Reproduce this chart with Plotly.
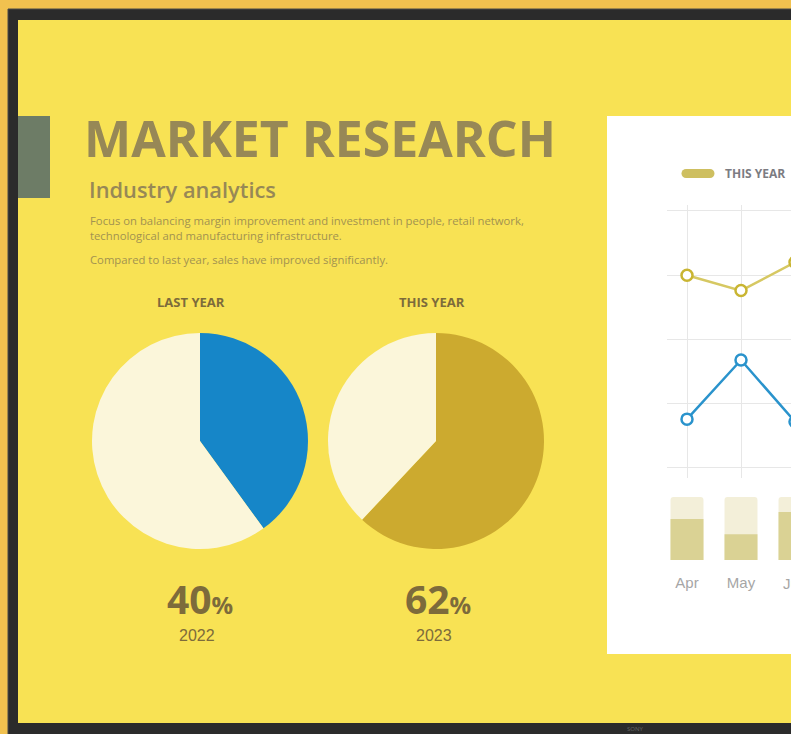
import plotly.graph_objects as go

W, H = 791, 734

# ---------------- data ----------------
pie_labels = ["Share", "Rest"]
last_year_share = [40, 60]
this_year_share = [62, 38]
share_text = ["40", "62"]
share_years = ["2022", "2023"]
pie_titles = ["LAST YEAR", "THIS YEAR"]

months = ["Apr", "May", "Jun"]
this_year_line = [75, 69, 80]
last_year_line = [19, 42, 18]
bar_total = [100, 100, 100]
bar_values = [65, 41, 76]

title_text = "MARKET RESEARCH"
subtitle_text = "Industry analytics"
body_lines = [
    "Focus on balancing margin improvement and investment in people, retail network,",
    "technological and manufacturing infrastructure.",
    "Compared to last year, sales have improved significantly.",
]
legend_text = "THIS YEAR"

# ---------------- helpers ----------------
def px(x):
    return x / W

def py(y):
    return 1 - y / H

YELLOW = "#F8E254"
OLIVE = "#978856"
BROWN = "#7D6B3B"
FONT = "Open Sans"

fig = go.Figure()

# pies
fig.add_trace(go.Pie(labels=pie_labels, values=last_year_share, sort=False,
                     direction="clockwise", rotation=0, textinfo="none",
                     hoverinfo="skip", showlegend=False,
                     marker=dict(colors=["#1686C8", "#FBF6DA"], line=dict(width=0)),
                     domain=dict(x=[px(92), px(308)], y=[py(549), py(333)])))
fig.add_trace(go.Pie(labels=pie_labels, values=this_year_share, sort=False,
                     direction="clockwise", rotation=0, textinfo="none",
                     hoverinfo="skip", showlegend=False,
                     marker=dict(colors=["#CCAA2F", "#FBF6DA"], line=dict(width=0)),
                     domain=dict(x=[px(328), px(544)], y=[py(549), py(333)])))

# lines
fig.add_trace(go.Scatter(x=months, y=this_year_line, mode="lines+markers",
                         name=legend_text, showlegend=False,
                         line=dict(color="#D6C862", width=2.5),
                         marker=dict(size=11, color="white",
                                     line=dict(color="#C9B532", width=2.5)),
                         xaxis="x", yaxis="y"))
fig.add_trace(go.Scatter(x=months, y=last_year_line, mode="lines+markers",
                         name="LAST YEAR", showlegend=False,
                         line=dict(color="#2A93CC", width=2.5),
                         marker=dict(size=11, color="white",
                                     line=dict(color="#2A93CC", width=2.5)),
                         xaxis="x", yaxis="y"))

# bars
fig.add_trace(go.Bar(x=months, y=bar_total, width=0.61, showlegend=False,
                     marker=dict(color="#F3EFD9", cornerradius=3, line=dict(width=0)),
                     xaxis="x2", yaxis="y2", hoverinfo="skip"))
fig.add_trace(go.Bar(x=months, y=bar_values, width=0.61, showlegend=False,
                     marker=dict(color="#DAD294", cornerradius=3, line=dict(width=0)),
                     xaxis="x2", yaxis="y2"))

xr = [-20 / 54, 104 / 54]

shapes = [
    # bezel
    dict(type="rect", xref="paper", yref="paper", x0=px(8), x1=px(805), y0=py(745), y1=py(9),
         fillcolor="#2B2B2B", line=dict(color="#4A4A4A", width=1), layer="below"),
    # screen
    dict(type="rect", xref="paper", yref="paper", x0=px(18), x1=px(805), y0=py(723), y1=py(20),
         fillcolor=YELLOW, line=dict(width=0), layer="below"),
    # green tab
    dict(type="rect", xref="paper", yref="paper", x0=px(18), x1=px(50), y0=py(198), y1=py(116),
         fillcolor="#6D7C66", line=dict(width=0), layer="below"),
    # white card
    dict(type="rect", xref="paper", yref="paper", x0=px(607), x1=px(805), y0=py(654), y1=py(116),
         fillcolor="#FFFFFF", line=dict(width=0), layer="below"),
    # legend pill
    dict(type="rect", xref="paper", yref="paper", x0=px(686), x1=px(710), y0=py(178), y1=py(169),
         fillcolor="#CEBF60", line=dict(width=0), layer="below"),
    dict(type="circle", xref="paper", yref="paper", x0=px(681.5), x1=px(690.5), y0=py(178), y1=py(169),
         fillcolor="#CEBF60", line=dict(width=0), layer="below"),
    dict(type="circle", xref="paper", yref="paper", x0=px(705.5), x1=px(714.5), y0=py(178), y1=py(169),
         fillcolor="#CEBF60", line=dict(width=0), layer="below"),
]

def ann(text, x, y, size, color, xanchor="left", weight="normal", family=FONT):
    return dict(text=text, x=px(x), y=py(y), xref="paper", yref="paper",
                xanchor=xanchor, yanchor="middle", showarrow=False,
                font=dict(size=size, color=color, family=family, weight=weight))

annotations = [
    ann(title_text, 82, 138, 50, OLIVE, weight="bold"),
    ann(subtitle_text, 87, 190, 21.8, OLIVE, weight=600),
    ann(body_lines[0], 88, 220, 11.3, "#A29250"),
    ann(body_lines[1], 88, 236, 11.3, "#A29250"),
    ann(body_lines[2], 88, 259, 11.3, "#A29250"),
    ann(pie_titles[0], 191, 302, 13, BROWN, xanchor="center", weight="bold"),
    ann(pie_titles[1], 432, 302, 13, BROWN, xanchor="center", weight="bold"),
    ann("<b>" + share_text[0] + "</b><span style='font-size:24px'><b>%</b></span>", 200, 598, 39, BROWN, xanchor="center"),
    ann("<b>" + share_text[1] + "</b><span style='font-size:24px'><b>%</b></span>", 438, 598, 39, BROWN, xanchor="center"),
    ann(share_years[0], 197, 635, 16, BROWN, xanchor="center", family="Liberation Sans"),
    ann(share_years[1], 434, 635, 16, BROWN, xanchor="center", family="Liberation Sans"),
    ann(legend_text, 723, 173, 12, "#7C7C82", weight="bold"),
    ann(months[2], 795, 583, 15, "#A6A6A6", xanchor="center", family="Liberation Sans"),
    ann("SONY", 635, 729, 6, "#666666", xanchor="center"),
]

fig.update_layout(
    width=W, height=H,
    margin=dict(l=0, r=0, t=0, b=0),
    paper_bgcolor="#F1C14F",
    plot_bgcolor="rgba(0,0,0,0)",
    barmode="overlay",
    showlegend=False,
    shapes=shapes,
    annotations=annotations,
    xaxis=dict(domain=[px(667), 1], range=xr, showgrid=True, gridcolor="#E7E7E7",
               gridwidth=1, showticklabels=False, zeroline=False, showline=False, ticks=""),
    yaxis=dict(domain=[py(478), py(205)], range=[-3.9, 102.3], tickvals=[0, 25, 50, 75, 100],
               showgrid=True, gridcolor="#E7E7E7", gridwidth=1, showticklabels=False,
               zeroline=False, showline=False, ticks=""),
    xaxis2=dict(domain=[px(667), 1], range=xr, showgrid=False, zeroline=False, showline=False,
                ticks="", ticklabelstandoff=12,
                tickfont=dict(size=15, color="#A6A6A6", family="Liberation Sans"),
                anchor="y2"),
    yaxis2=dict(domain=[py(560), py(497)], range=[0, 100], showgrid=False, zeroline=False,
                showticklabels=False, showline=False, ticks="", anchor="x2"),
)

fig.write_html("out.html", config={"displayModeBar": False},
               post_script="document.body.style.margin='0';document.body.style.overflow='hidden';")
